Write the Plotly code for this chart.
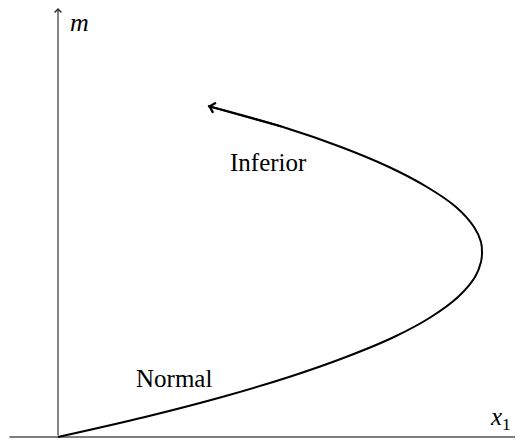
import plotly.graph_objects as go

# curve: x1 (horizontal) vs m (vertical), arbitrary units
m_vals  = [0.00, 0.20, 0.40, 0.60, 0.80, 1.00, 1.20, 1.40, 1.60, 1.75, 1.84, 1.95, 2.10, 2.30, 2.50, 2.70, 2.90, 3.10, 3.31]
x1_vals = [0.00, 0.87, 1.64, 2.31, 2.88, 3.36, 3.73, 4.00, 4.17, 4.23, 4.24, 4.23, 4.16, 3.98, 3.69, 3.31, 2.83, 2.25, 1.50]

region_labels = ["Normal", "Inferior"]
region_x = [1.16, 2.10]
region_y = [0.59, 2.75]

# page has an 8px body margin: figure is 515x433, origin at figure pixel (50, 429)
W, H = 515, 433
x_min, x_max = -0.50, 4.65
y_min, y_max = -0.04, 4.29

fig = go.Figure()
fig.add_trace(go.Scatter(x=x1_vals, y=m_vals, mode="lines",
                         line=dict(color="black", width=2, shape="spline", smoothing=1.0),
                         hoverinfo="skip", showlegend=False))

serif = "Liberation Serif, Times New Roman, DejaVu Serif, serif"
ann = []
# axes with arrows
ann.append(dict(x=x_max, y=0, ax=x_min, ay=0, xref="x", yref="y", axref="x", ayref="y",
                text="", showarrow=True, arrowhead=4, arrowsize=1.1, arrowwidth=1.2, arrowcolor="black", standoff=0))
ann.append(dict(x=0, y=y_max, ax=0, ay=0, xref="x", yref="y", axref="x", ayref="y",
                text="", showarrow=True, arrowhead=4, arrowsize=1.1, arrowwidth=1.2, arrowcolor="#333", standoff=0))
# arrow at the end of the curve
ann.append(dict(x=x1_vals[-1], y=m_vals[-1], ax=x1_vals[-2], ay=m_vals[-2], xref="x", yref="y",
                axref="x", ayref="y", text="", showarrow=True, arrowhead=4, arrowsize=1,
                arrowwidth=2, arrowcolor="black", standoff=0))
# axis labels
ann.append(dict(x=0.21, y=4.15, xref="x", yref="y", text="<i>m</i>", showarrow=False,
                font=dict(family=serif, size=26, color="black")))
ann.append(dict(x=4.42, y=0.19, xref="x", yref="y", text="<i>x</i><sub>1</sub>", showarrow=False,
                font=dict(family=serif, size=25, color="black")))
for t, xx, yy in zip(region_labels, region_x, region_y):
    ann.append(dict(x=xx, y=yy, xref="x", yref="y", text=t, showarrow=False,
                    font=dict(family=serif, size=25, color="black")))

fig.update_layout(
    width=W, height=H,
    margin=dict(l=0, r=0, t=0, b=0),
    paper_bgcolor="white", plot_bgcolor="white",
    xaxis=dict(range=[x_min, x_max], visible=False, fixedrange=True),
    yaxis=dict(range=[y_min, y_max], visible=False, fixedrange=True),
    annotations=ann,
)
fig.write_html("out.html")
